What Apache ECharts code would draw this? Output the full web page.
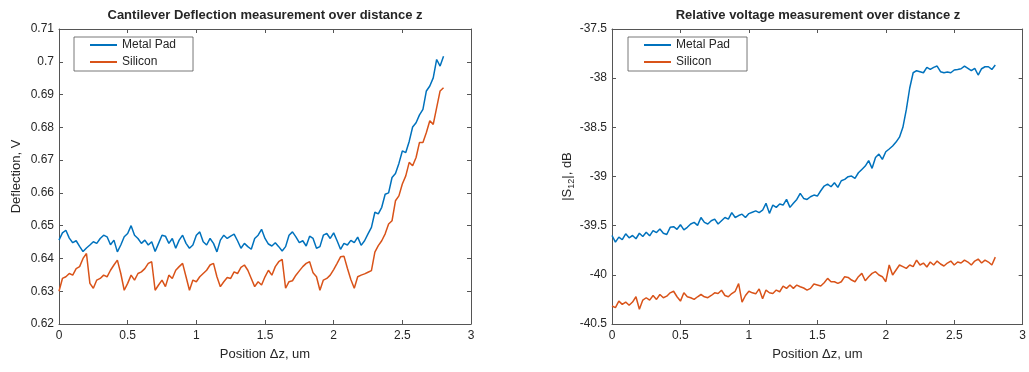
<!DOCTYPE html>
<html>
<head>
<meta charset="utf-8">
<script src="https://cdn.jsdelivr.net/npm/echarts@6.0.0/dist/echarts.min.js"></script>
<style>
  html, body { margin: 0; padding: 0; background: #fff; }
  #chart { width: 1029px; height: 372px; }
</style>
</head>
<body>
<div id="chart"></div>
<script>
// sample positions, um
const zPos = [
  0, 0.025, 0.05, 0.075, 0.1, 0.125, 0.15, 0.175, 0.2, 0.225, 0.25, 0.275, 0.3, 0.325, 0.35, 0.375, 0.4, 0.425, 0.45, 0.475,
  0.5, 0.525, 0.55, 0.575, 0.6, 0.625, 0.65, 0.675, 0.7, 0.725, 0.75, 0.775, 0.8, 0.825, 0.85, 0.875, 0.9, 0.925, 0.95, 0.975,
  1, 1.025, 1.05, 1.075, 1.1, 1.125, 1.15, 1.175, 1.2, 1.225, 1.25, 1.275, 1.3, 1.325, 1.35, 1.375, 1.4, 1.425, 1.45, 1.475,
  1.5, 1.525, 1.55, 1.575, 1.6, 1.625, 1.65, 1.675, 1.7, 1.725, 1.75, 1.775, 1.8, 1.825, 1.85, 1.875, 1.9, 1.925, 1.95, 1.975,
  2, 2.025, 2.05, 2.075, 2.1, 2.125, 2.15, 2.175, 2.2, 2.225, 2.25, 2.275, 2.3, 2.325, 2.35, 2.375, 2.4, 2.425, 2.45, 2.475,
  2.5, 2.525, 2.55, 2.575, 2.6, 2.625, 2.65, 2.675, 2.7, 2.725, 2.75, 2.775, 2.8
];

// deflection, V
const deflMetal = [
  0.6456, 0.6478, 0.6486, 0.6462, 0.6448, 0.6454, 0.6437, 0.6421, 0.6432, 0.6441, 0.6451, 0.6446, 0.6461, 0.6471, 0.6466, 0.6442, 0.6456, 0.6420, 0.6441, 0.6466,
  0.6476, 0.6500, 0.6471, 0.6461, 0.6446, 0.6456, 0.6441, 0.6451, 0.6421, 0.6446, 0.6471, 0.6468, 0.6446, 0.6461, 0.6431, 0.6456, 0.6471, 0.6446, 0.6431, 0.6441,
  0.6471, 0.6481, 0.6451, 0.6441, 0.6461, 0.6446, 0.6420, 0.6456, 0.6471, 0.6461, 0.6468, 0.6474, 0.6454, 0.6431, 0.6446, 0.6436, 0.6428, 0.6461, 0.6471, 0.6489,
  0.6461, 0.6444, 0.6438, 0.6448, 0.6436, 0.6423, 0.6436, 0.6471, 0.6481, 0.6466, 0.6448, 0.6454, 0.6438, 0.6468, 0.6461, 0.6431, 0.6436, 0.6471, 0.6476, 0.6461,
  0.6478, 0.6454, 0.6428, 0.6446, 0.6441, 0.6455, 0.6448, 0.6465, 0.6440, 0.6454, 0.6475, 0.6495, 0.6541, 0.6536, 0.6556, 0.6596, 0.6600, 0.6647, 0.6659, 0.6690,
  0.6728, 0.6723, 0.6757, 0.6801, 0.6814, 0.6838, 0.6855, 0.6911, 0.6926, 0.6951, 0.7007, 0.6987, 0.7017
];
const deflSi = [
  0.6300, 0.6339, 0.6344, 0.6354, 0.6349, 0.6369, 0.6375, 0.6400, 0.6415, 0.6324, 0.6309, 0.6334, 0.6339, 0.6349, 0.6344, 0.6364, 0.6380, 0.6395, 0.6354, 0.6303,
  0.6324, 0.6349, 0.6334, 0.6354, 0.6359, 0.6369, 0.6385, 0.6390, 0.6303, 0.6319, 0.6334, 0.6314, 0.6349, 0.6339, 0.6364, 0.6375, 0.6385, 0.6344, 0.6303, 0.6334,
  0.6329, 0.6344, 0.6354, 0.6364, 0.6380, 0.6385, 0.6344, 0.6314, 0.6329, 0.6342, 0.6339, 0.6359, 0.6354, 0.6373, 0.6380, 0.6364, 0.6339, 0.6314, 0.6329, 0.6319,
  0.6344, 0.6364, 0.6349, 0.6375, 0.6390, 0.6397, 0.6309, 0.6329, 0.6332, 0.6349, 0.6362, 0.6375, 0.6385, 0.6390, 0.6356, 0.6344, 0.6303, 0.6334, 0.6339, 0.6349,
  0.6366, 0.6385, 0.6405, 0.6407, 0.6370, 0.6336, 0.6309, 0.6344, 0.6349, 0.6353, 0.6358, 0.6363, 0.6419, 0.6439, 0.6454, 0.6475, 0.6505, 0.6515, 0.6576, 0.6591,
  0.6627, 0.6652, 0.6693, 0.6683, 0.6708, 0.6754, 0.6754, 0.6784, 0.6820, 0.6809, 0.6860, 0.6911, 0.6921
];

// |S12|, dB
const s12Metal = [
  -39.600, -39.667, -39.617, -39.643, -39.583, -39.623, -39.600, -39.633, -39.577, -39.610, -39.567, -39.603, -39.550, -39.570, -39.533, -39.577, -39.590, -39.517, -39.510, -39.537,
  -39.490, -39.543, -39.517, -39.483, -39.467, -39.497, -39.417, -39.467, -39.483, -39.450, -39.433, -39.483, -39.450, -39.417, -39.433, -39.367, -39.417, -39.397, -39.383, -39.417,
  -39.377, -39.363, -39.350, -39.367, -39.343, -39.273, -39.375, -39.290, -39.314, -39.280, -39.290, -39.233, -39.314, -39.273, -39.233, -39.172, -39.223, -39.233, -39.206, -39.189,
  -39.199, -39.145, -39.097, -39.077, -39.104, -39.063, -39.111, -39.043, -39.029, -39.002, -38.995, -39.019, -38.962, -38.928, -38.894, -38.839, -38.917, -38.806, -38.772, -38.826,
  -38.748, -38.720, -38.690, -38.650, -38.600, -38.500, -38.320, -38.100, -37.945, -37.924, -37.934, -37.945, -37.890, -37.911, -37.890, -37.877, -37.934, -37.945, -37.938, -37.945,
  -37.917, -37.911, -37.904, -37.877, -37.900, -37.924, -37.900, -37.968, -37.904, -37.884, -37.884, -37.911, -37.867
];
const s12Si = [
  -40.317, -40.333, -40.267, -40.300, -40.277, -40.310, -40.277, -40.223, -40.350, -40.257, -40.233, -40.257, -40.210, -40.250, -40.200, -40.233, -40.217, -40.183, -40.167, -40.223,
  -40.267, -40.183, -40.223, -40.233, -40.250, -40.223, -40.200, -40.223, -40.233, -40.210, -40.183, -40.190, -40.157, -40.210, -40.223, -40.190, -40.167, -40.090, -40.277, -40.210,
  -40.167, -40.183, -40.193, -40.143, -40.243, -40.155, -40.182, -40.189, -40.155, -40.172, -40.114, -40.138, -40.104, -40.138, -40.104, -40.121, -40.134, -40.155, -40.138, -40.094,
  -40.104, -40.114, -40.080, -40.036, -40.070, -40.070, -40.087, -40.070, -40.019, -40.026, -40.053, -40.070, -40.019, -39.985, -40.060, -40.019, -39.985, -39.968, -40.002, -40.019,
  -40.070, -39.900, -40.002, -39.951, -39.900, -39.917, -39.934, -39.900, -39.917, -39.850, -39.900, -39.880, -39.920, -39.870, -39.900, -39.860, -39.890, -39.910, -39.880, -39.860,
  -39.900, -39.870, -39.880, -39.850, -39.870, -39.900, -39.860, -39.840, -39.880, -39.850, -39.870, -39.900, -39.820
];

const seriesNames = ["Metal Pad", "Silicon"];
const titles = [
  "Cantilever Deflection measurement over distance z",
  "Relative voltage measurement over distance z",
];

const BLUE = "#0072BD";
const ORANGE = "#D95319";
const AX = "#262626";
const AXLINE = "#555555";
const FONT = "Liberation Sans";

const pairs = (ys) => zPos.map((x, i) => [x, ys[i]]);

function xAx(grid, pos, labels) {
  return {
    type: "value", gridIndex: grid, position: pos,
    min: 0, max: 3, interval: 0.5,
    name: labels ? "Position \u0394z, um" : "",
    nameLocation: "middle", nameGap: 24,
    nameTextStyle: { color: AX, fontSize: 13, fontFamily: FONT },
    axisLine: { show: true, onZero: false, lineStyle: { color: AXLINE, width: 1 } },
    axisTick: { show: true, inside: true, length: 4, lineStyle: { color: AXLINE } },
    axisLabel: { show: labels, color: AX, fontSize: 12, fontFamily: FONT, margin: 6 },
    splitLine: { show: false },
  };
}
function yAx(grid, pos, min, max, step, labels, name, gap, rich) {
  return {
    type: "value", gridIndex: grid, position: pos,
    min: min, max: max, interval: step,
    name: labels ? name : "",
    nameLocation: "middle", nameGap: gap,
    nameTextStyle: { color: AX, fontSize: 13, fontFamily: FONT, rich: rich },
    axisLine: { show: true, onZero: false, lineStyle: { color: AXLINE, width: 1 } },
    axisTick: { show: true, inside: true, length: 4, lineStyle: { color: AXLINE } },
    axisLabel: { show: labels, color: AX, fontSize: 12, fontFamily: FONT, margin: 5 },
    splitLine: { show: false },
  };
}
function legendAt(left) {
  return {
    left: left, top: 37, orient: "vertical",
    data: seriesNames,
    icon: "rect", itemWidth: 27, itemHeight: 2, itemGap: 3,
    padding: [1, 17, 2, 16],
    borderColor: AXLINE, borderWidth: 0.8,
    backgroundColor: "#fff",
    textStyle: { color: AX, fontSize: 12, fontFamily: FONT, lineHeight: 14 },
    selectedMode: false,
  };
}
function lineSeries(name, x, y, data, color) {
  return {
    name: name, type: "line", xAxisIndex: x, yAxisIndex: y,
    data: data, showSymbol: false, symbol: "none",
    lineStyle: { color: color, width: 1.5 }, itemStyle: { color: color },
    z: 3,
  };
}

const subRich = { sub: { fontSize: 9, fontFamily: FONT, color: AX, verticalAlign: "bottom", padding: [8, 0, 0, 0] } };

const option = {
  animation: false,
  backgroundColor: "#fff",
  title: [
    { text: titles[0], left: 265, top: 9, textAlign: "center", padding: 0,
      textStyle: { color: AX, fontSize: 13, fontWeight: "bold", fontFamily: FONT } },
    { text: titles[1], left: 818, top: 9, textAlign: "center", padding: 0,
      textStyle: { color: AX, fontSize: 13, fontWeight: "bold", fontFamily: FONT } },
  ],
  legend: [legendAt(74), legendAt(628)],
  grid: [
    { left: 59, top: 29, width: 412, height: 295 },
    { left: 612, top: 29, width: 412, height: 295 },
  ],
  xAxis: [xAx(0, "bottom", true), xAx(0, "top", false), xAx(1, "bottom", true), xAx(1, "top", false)],
  yAxis: [
    yAx(0, "left", 0.62, 0.71, 0.01, true, "Deflection, V", 36),
    yAx(0, "right", 0.62, 0.71, 0.01, false, ""),
    yAx(1, "left", -40.5, -37.5, 0.5, true, "|S{sub|12}|, dB", 22, subRich),
    yAx(1, "right", -40.5, -37.5, 0.5, false, ""),
  ],
  series: [
    lineSeries(seriesNames[0], 0, 0, pairs(deflMetal), BLUE),
    lineSeries(seriesNames[1], 0, 0, pairs(deflSi), ORANGE),
    lineSeries(seriesNames[0], 2, 2, pairs(s12Metal), BLUE),
    lineSeries(seriesNames[1], 2, 2, pairs(s12Si), ORANGE),
  ],
};

const chart = echarts.init(document.getElementById("chart"));
chart.setOption(option);
</script>
</body>
</html>
